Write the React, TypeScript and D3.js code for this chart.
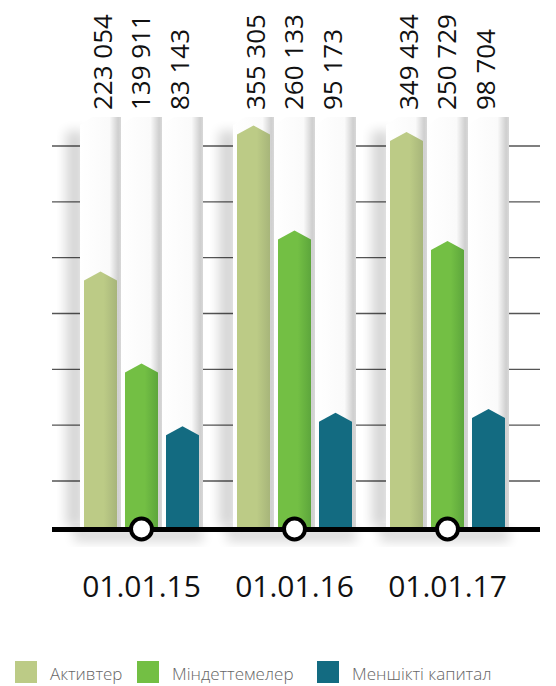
import React from "react";
import * as d3 from "d3";

const dates = ["01.01.15", "01.01.16", "01.01.17"];
const seriesNames = ["Активтер", "Міндеттемелер", "Меншікті капитал"];
const assets = [223054, 355305, 349434];
const liabilities = [139911, 260133, 250729];
const equity = [83143, 95173, 98704];
const seriesValues = [assets, liabilities, equity];
const seriesColors = ["#BCCB86", "#73BF44", "#136B81"];
const seriesDark = ["#A7B57A", "#5DA63C", "#136B81"];

const W = 556;
const H = 686;
const BASE = 527;

export default function App() {
  const x0 = d3.scaleBand<string>().domain(dates).range([65, 524]);
  const x1 = d3
    .scaleBand<string>()
    .domain(seriesNames)
    .range([0, 123])
    .paddingInner(0.195)
    .paddingOuter(0.0975);
  const y = d3.scaleLinear().domain([0, 400000]).range([BASE, BASE - 442]);
  const gridScale = d3.scaleLinear().domain([0, 6]).range([481, 146]);
  const gridIdx = d3.range(7);
  const fmt = (v: number) => d3.format(",")(v).replace(/,/g, " ");
  const step = x1.step();
  const bw = x1.bandwidth();
  const colTop = 117;

  const legendX = [15, 137, 317];

  return (
    <svg
      width={W}
      height={H}
      style={{ position: "absolute", left: 0, top: 0, background: "#fff" }}
      fontFamily="'Open Sans', sans-serif"
    >
      <defs>
        <filter id="blur6" x="-50%" y="-50%" width="200%" height="200%">
          <feGaussianBlur stdDeviation="6" />
        </filter>
        <linearGradient id="colGrad" x1="0" x2="1" y1="0" y2="0">
          <stop offset="0" stopColor="#ffffff" />
          <stop offset="0.72" stopColor="#fafafa" />
          <stop offset="0.93" stopColor="#cfcfcf" />
          <stop offset="1" stopColor="#d8d8d8" />
        </linearGradient>
        {seriesNames.map((s, i) => (
          <linearGradient key={s} id={`barGrad${i}`} x1="0" x2="1" y1="0" y2="0">
            <stop offset="0" stopColor={seriesColors[i]} />
            <stop offset="0.6" stopColor={seriesColors[i]} />
            <stop offset="1" stopColor={seriesDark[i]} />
          </linearGradient>
        ))}
      </defs>

      {/* gridlines */}
      {gridIdx.map((i) => (
        <line
          key={i}
          x1={52}
          x2={540}
          y1={gridScale(i)}
          y2={gridScale(i)}
          stroke="#555"
          strokeWidth={1.3}
        />
      ))}

      {/* group shadows */}
      {dates.map((d) => {
        const gx = (x0(d) as number) + x0.bandwidth() / 2 - 61.5;
        return (
          <g key={`sh-${d}`}>
            <rect
              x={gx - 14}
              y={colTop + 14}
              width={18}
              height={BASE - colTop - 14}
              fill="#000"
              opacity={0.16}
              filter="url(#blur6)"
            />
            <rect
              x={gx - 6}
              y={BASE + 2}
              width={step * 3 + 6}
              height={12}
              fill="#000"
              opacity={0.16}
              filter="url(#blur6)"
            />
          </g>
        );
      })}

      {/* columns */}
      {dates.map((d) => {
        const gx = (x0(d) as number) + x0.bandwidth() / 2 - 61.5;
        return seriesNames.map((s, i) => {
          const cx0 = gx + i * step;
          const cx1 = cx0 + step;
          return (
            <path
              key={`col-${d}-${s}`}
              d={`M${cx0},${colTop + 8} L${cx0 + 12},${colTop} L${cx1},${colTop} L${cx1},${BASE} L${cx0},${BASE} Z`}
              fill="url(#colGrad)"
            />
          );
        });
      })}

      {/* bars */}
      {dates.map((d, gi) => {
        const gx = (x0(d) as number) + x0.bandwidth() / 2 - 61.5;
        return seriesNames.map((s, i) => {
          const bx = gx + (x1(s) as number);
          const ys = y(seriesValues[i][gi]);
          return (
            <path
              key={`bar-${d}-${s}`}
              d={`M${bx},${BASE} L${bx},${ys} L${bx + bw / 2},${ys - 9} L${bx + bw},${ys} L${bx + bw},${BASE} Z`}
              fill={`url(#barGrad${i})`}
            />
          );
        });
      })}

      {/* value labels */}
      {dates.map((d, gi) => {
        const gc = (x0(d) as number) + x0.bandwidth() / 2;
        return seriesNames.map((s, i) => {
          const lx = gc - 1 + (i - 1) * 38.5 + 9.5;
          return (
            <text
              key={`lab-${d}-${s}`}
              transform={`translate(${lx},110) rotate(-90)`}
              fontSize={26}
              fill="#111"
              textAnchor="start"
            >
              {fmt(seriesValues[i][gi])}
            </text>
          );
        });
      })}

      {/* baseline */}
      <rect x={52} y={BASE} width={488} height={5} fill="#000" />

      {/* markers */}
      {dates.map((d) => {
        const gc = (x0(d) as number) + x0.bandwidth() / 2;
        return (
          <circle
            key={`c-${d}`}
            cx={gc}
            cy={BASE + 2}
            r={10.5}
            fill="#fff"
            stroke="#000"
            strokeWidth={4}
          />
        );
      })}

      {/* date labels */}
      {dates.map((d) => {
        const gc = (x0(d) as number) + x0.bandwidth() / 2;
        return (
          <text
            key={`d-${d}`}
            x={gc}
            y={597}
            fontSize={30}
            textAnchor="middle"
            fill="#111"
          >
            {d}
          </text>
        );
      })}

      {/* legend */}
      {seriesNames.map((s, i) => (
        <g key={`lg-${s}`} transform={`translate(${legendX[i]},661)`}>
          <rect width={22} height={22} fill={seriesColors[i]} />
          <text x={35} y={19} fontSize={17} fill="#666" fontWeight={300}>
            {s}
          </text>
        </g>
      ))}
    </svg>
  );
}
